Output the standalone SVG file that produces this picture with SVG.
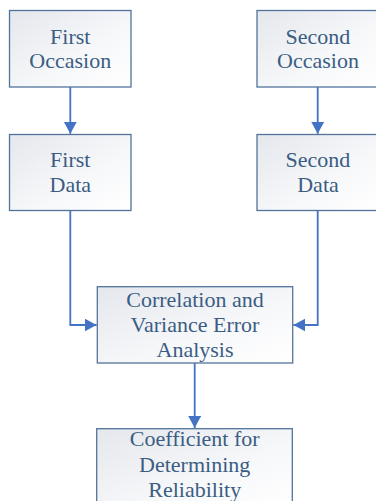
<svg xmlns="http://www.w3.org/2000/svg" width="376" height="501" viewBox="0 0 376 501">
<style>
.box{fill:url(#g);stroke:#52749b;stroke-width:1.3}
.t{font-size:22px;fill:#3b5d83;text-anchor:middle}
.c{fill:none;stroke:#4472c4;stroke-width:1.8}
</style>
<defs>
<linearGradient id="g" x1="0" y1="0" x2="1" y2="1">
<stop offset="0" stop-color="#e4e7ec"/>
<stop offset="0.6" stop-color="#f7f8fa"/>
<stop offset="1" stop-color="#ffffff"/>
</linearGradient>
<marker id="a" markerUnits="userSpaceOnUse" markerWidth="14" markerHeight="14" refX="12" refY="6.5" orient="auto">
<path d="M0,0 L12,6.5 L0,13 Z" fill="#4472c4"/>
</marker>
</defs>
<g id="connectors">
<path class="c" d="M70.3,87 V133.8" marker-end="url(#a)"/>
<path class="c" d="M317.7,87 V133.8" marker-end="url(#a)"/>
<path class="c" d="M70.3,210.5 V325 H96.6" marker-end="url(#a)"/>
<path class="c" d="M317.7,210.5 V325 H293.4" marker-end="url(#a)"/>
<path class="c" d="M194.7,363 V428" marker-end="url(#a)"/>
</g>
<g font-family="Liberation Serif, Times New Roman, Times, serif">
<g id="first-occasion">
<rect class="box" x="9.5" y="10.5" width="121.5" height="76.5"/>
<text class="t" x="70.3" y="43.5">First</text>
<text class="t" x="70.3" y="68">Occasion</text>
</g>
<g id="second-occasion">
<rect class="box" x="257" y="10.5" width="122" height="76.5"/>
<text class="t" x="318" y="43.5">Second</text>
<text class="t" x="318" y="68">Occasion</text>
</g>
<g id="first-data">
<rect class="box" x="9.5" y="134.5" width="121.5" height="76"/>
<text class="t" x="70.3" y="167">First</text>
<text class="t" x="70.3" y="192">Data</text>
</g>
<g id="second-data">
<rect class="box" x="257" y="134.5" width="122" height="76"/>
<text class="t" x="318" y="167">Second</text>
<text class="t" x="318" y="192">Data</text>
</g>
<g id="correlation">
<rect class="box" x="97.3" y="286.7" width="195.4" height="76.3"/>
<text class="t" x="195" y="307.3">Correlation and</text>
<text class="t" x="195" y="332">Variance Error</text>
<text class="t" x="195" y="356.5">Analysis</text>
</g>
<g id="coefficient">
<rect class="box" x="96.7" y="428.7" width="195.6" height="80"/>
<text class="t" x="194.7" y="446">Coefficient for</text>
<text class="t" x="194.7" y="471.5">Determining</text>
<text class="t" x="194.7" y="497">Reliability</text>
</g>
</g>
</svg>
